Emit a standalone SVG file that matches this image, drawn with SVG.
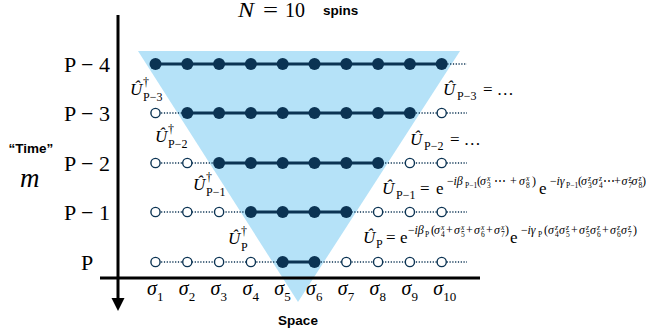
<svg xmlns="http://www.w3.org/2000/svg" width="646" height="335" viewBox="0 0 646 335">
<style>
.serif{font-family:"Liberation Serif","Times New Roman",serif;fill:#000}
.sans{font-family:"Liberation Sans",Arial,sans-serif;font-weight:bold;fill:#000}
.it{font-style:italic}
.big{font-size:17px}
.sub{font-size:12px}
.s1{font-size:12px}
.s2{font-size:7.5px}
.solid{stroke:#0b3353;stroke-width:3;fill:none}
.dot{stroke:#0b3353;stroke-width:1.6;stroke-dasharray:1.2 1.6;fill:none}
.f{fill:#0b3353}
.o{fill:#fff;stroke:#0b3353;stroke-width:1.4}
.axis{stroke:#000;stroke-width:3;fill:none}
</style>
<polygon points="138,51 460,51 298,302" fill="#b5e2f8"/>
<g id="axes">
<line class="axis" x1="118" y1="15" x2="118" y2="300"/>
<polygon points="111.5,298 124.5,298 118,311" fill="#000"/>
<line class="axis" x1="100" y1="278" x2="480" y2="278"/>
</g>
<g id="connectors">
<line class="dot" x1="441.7" y1="64" x2="467" y2="64"/>
<line class="solid" x1="155.5" y1="64" x2="441.7" y2="64"/>
<line class="dot" x1="155.5" y1="113" x2="467" y2="113"/>
<line class="solid" x1="187.3" y1="113" x2="409.9" y2="113"/>
<line class="dot" x1="155.5" y1="163" x2="467" y2="163"/>
<line class="solid" x1="219.1" y1="163" x2="378.1" y2="163"/>
<line class="dot" x1="155.5" y1="212" x2="467" y2="212"/>
<line class="solid" x1="250.9" y1="212" x2="346.3" y2="212"/>
<line class="dot" x1="155.5" y1="262" x2="467" y2="262"/>
<line class="solid" x1="282.7" y1="262" x2="314.5" y2="262"/>
</g>
<g id="row-P-4">
<circle class="f" cx="155.5" cy="64" r="6"/><circle class="f" cx="187.3" cy="64" r="6"/><circle class="f" cx="219.1" cy="64" r="6"/><circle class="f" cx="250.9" cy="64" r="6"/><circle class="f" cx="282.7" cy="64" r="6"/><circle class="f" cx="314.5" cy="64" r="6"/><circle class="f" cx="346.3" cy="64" r="6"/><circle class="f" cx="378.1" cy="64" r="6"/><circle class="f" cx="409.9" cy="64" r="6"/><circle class="f" cx="441.7" cy="64" r="6"/>
</g>
<g id="row-P-3">
<circle class="o" cx="155.5" cy="113" r="4.6"/><circle class="f" cx="187.3" cy="113" r="6"/><circle class="f" cx="219.1" cy="113" r="6"/><circle class="f" cx="250.9" cy="113" r="6"/><circle class="f" cx="282.7" cy="113" r="6"/><circle class="f" cx="314.5" cy="113" r="6"/><circle class="f" cx="346.3" cy="113" r="6"/><circle class="f" cx="378.1" cy="113" r="6"/><circle class="f" cx="409.9" cy="113" r="6"/><circle class="o" cx="441.7" cy="113" r="4.6"/>
</g>
<g id="row-P-2">
<circle class="o" cx="155.5" cy="163" r="4.6"/><circle class="o" cx="187.3" cy="163" r="4.6"/><circle class="f" cx="219.1" cy="163" r="6"/><circle class="f" cx="250.9" cy="163" r="6"/><circle class="f" cx="282.7" cy="163" r="6"/><circle class="f" cx="314.5" cy="163" r="6"/><circle class="f" cx="346.3" cy="163" r="6"/><circle class="f" cx="378.1" cy="163" r="6"/><circle class="o" cx="409.9" cy="163" r="4.6"/><circle class="o" cx="441.7" cy="163" r="4.6"/>
</g>
<g id="row-P-1">
<circle class="o" cx="155.5" cy="212" r="4.6"/><circle class="o" cx="187.3" cy="212" r="4.6"/><circle class="o" cx="219.1" cy="212" r="4.6"/><circle class="f" cx="250.9" cy="212" r="6"/><circle class="f" cx="282.7" cy="212" r="6"/><circle class="f" cx="314.5" cy="212" r="6"/><circle class="f" cx="346.3" cy="212" r="6"/><circle class="o" cx="378.1" cy="212" r="4.6"/><circle class="o" cx="409.9" cy="212" r="4.6"/><circle class="o" cx="441.7" cy="212" r="4.6"/>
</g>
<g id="row-P">
<circle class="o" cx="155.5" cy="262" r="4.6"/><circle class="o" cx="187.3" cy="262" r="4.6"/><circle class="o" cx="219.1" cy="262" r="4.6"/><circle class="o" cx="250.9" cy="262" r="4.6"/><circle class="f" cx="282.7" cy="262" r="6"/><circle class="f" cx="314.5" cy="262" r="6"/><circle class="o" cx="346.3" cy="262" r="4.6"/><circle class="o" cx="378.1" cy="262" r="4.6"/><circle class="o" cx="409.9" cy="262" r="4.6"/><circle class="o" cx="441.7" cy="262" r="4.6"/>
</g>
<g id="title">
<text class="serif it" x="238" y="17" font-size="20" textLength="16" lengthAdjust="spacingAndGlyphs">N</text>
<text class="serif" x="263" y="17" font-size="20" textLength="15" lengthAdjust="spacingAndGlyphs">=</text>
<text class="serif" x="285" y="17" font-size="20">10</text>
<text class="sans" x="323" y="15" font-size="13.5">spins</text>
</g>
<g id="time-labels" class="serif" font-size="22" text-anchor="middle">
<text x="87" y="72">P − 4</text>
<text x="87" y="121">P − 3</text>
<text x="87" y="171">P − 2</text>
<text x="87" y="220">P − 1</text>
<text x="87" y="270">P</text>
</g>
<text class="sans" x="31" y="153" font-size="13.5" text-anchor="middle">“Time”</text>
<text class="serif it" x="20" y="187" font-size="27">m</text>
<text class="sans" x="298" y="325" font-size="13.5" text-anchor="middle">Space</text>
<g id="space-labels" class="serif">
<text class="it" font-size="20" y="295"><tspan x="147">σ</tspan><tspan x="178.8">σ</tspan><tspan x="210.6">σ</tspan><tspan x="242.4">σ</tspan><tspan x="274.2">σ</tspan><tspan x="306">σ</tspan><tspan x="337.8">σ</tspan><tspan x="369.6">σ</tspan><tspan x="401.4">σ</tspan><tspan x="433.2">σ</tspan></text>
<text font-size="13" y="301"><tspan x="157">1</tspan><tspan x="188.8">2</tspan><tspan x="220.6">3</tspan><tspan x="252.4">4</tspan><tspan x="284.2">5</tspan><tspan x="316">6</tspan><tspan x="347.8">7</tspan><tspan x="379.6">8</tspan><tspan x="411.4">9</tspan><tspan x="443.2">10</tspan></text>
</g>
<g id="dagger-labels" class="serif">
<text class="big it" x="130" y="95">Û</text><text class="s1" x="143" y="86">†</text><text class="sub" x="143" y="101">P−3</text>
<text class="big it" x="155" y="142">Û</text><text class="s1" x="168" y="133">†</text><text class="sub" x="168" y="148">P−2</text>
<text class="big it" x="193" y="190">Û</text><text class="s1" x="206" y="181">†</text><text class="sub" x="206" y="196">P−1</text>
<text class="big it" x="228" y="244">Û</text><text class="s1" x="241" y="235">†</text><text class="sub" x="241" y="251">P</text>
</g>
<g id="U-labels" class="serif">
<text class="big it" x="443" y="95">Û</text><text class="sub" x="457" y="100">P−3</text><text class="big" x="483" y="95">= …</text>
<text class="big it" x="410" y="145">Û</text><text class="sub" x="424" y="150">P−2</text><text class="big" x="450" y="145">= …</text>
<text class="big it" x="382" y="194">Û</text><text class="sub" x="396" y="199">P−1</text><text class="big" x="420" y="194">=</text><text class="big" x="436" y="194">e</text><text class="big" x="539" y="194">e</text>
<text class="s1"><tspan x="447" y="185">−</tspan><tspan class="it" x="453.5" y="185">iβ</tspan><tspan class="s2" x="465" y="188">P−1</tspan><tspan x="477" y="185">(</tspan><tspan class="it" x="480" y="185">σ</tspan><tspan class="s2 it" x="487" y="180.5">x</tspan><tspan class="s2" x="487" y="188">3</tspan><tspan x="494" y="185">⋯</tspan><tspan x="510" y="185">+</tspan><tspan class="it" x="519" y="185">σ</tspan><tspan class="s2 it" x="526" y="180.5">x</tspan><tspan class="s2" x="526" y="188">8</tspan><tspan x="532" y="185">)</tspan>
<tspan x="550" y="185">−</tspan><tspan class="it" x="556.5" y="185">iγ</tspan><tspan class="s2" x="566" y="188">P−1</tspan><tspan x="578" y="185">(</tspan><tspan class="it" x="581" y="185">σ</tspan><tspan class="s2 it" x="588" y="180.5">z</tspan><tspan class="s2" x="588" y="188">3</tspan><tspan class="it" x="592" y="185">σ</tspan><tspan class="s2 it" x="599" y="180.5">z</tspan><tspan class="s2" x="599" y="188">4</tspan><tspan x="603" y="185">⋯</tspan><tspan x="614" y="185">+</tspan><tspan class="it" x="621.5" y="185">σ</tspan><tspan class="s2 it" x="628.5" y="180.5">z</tspan><tspan class="s2" x="628.5" y="188">7</tspan><tspan class="it" x="631.5" y="185">σ</tspan><tspan class="s2 it" x="638.5" y="180.5">z</tspan><tspan class="s2" x="638.5" y="188">8</tspan><tspan x="642" y="185">)</tspan></text>
<text class="big it" x="363" y="243">Û</text><text class="sub" x="376" y="248">P</text><text class="big" x="386" y="243">=</text><text class="big" x="400" y="243">e</text><text class="big" x="510" y="243">e</text>
<text class="s1"><tspan x="408" y="234">−</tspan><tspan class="it" x="414.5" y="234">iβ</tspan><tspan class="s2" x="425" y="237">P</tspan><tspan x="431" y="234">(</tspan><tspan class="it" x="434" y="234">σ</tspan><tspan class="s2 it" x="441" y="229.5">x</tspan><tspan class="s2" x="441" y="237">4</tspan><tspan x="446" y="234">+</tspan><tspan class="it" x="454" y="234">σ</tspan><tspan class="s2 it" x="461" y="229.5">x</tspan><tspan class="s2" x="461" y="237">5</tspan><tspan x="466" y="234">+</tspan><tspan class="it" x="474" y="234">σ</tspan><tspan class="s2 it" x="481" y="229.5">x</tspan><tspan class="s2" x="481" y="237">6</tspan><tspan x="486" y="234">+</tspan><tspan class="it" x="494" y="234">σ</tspan><tspan class="s2 it" x="501" y="229.5">x</tspan><tspan class="s2" x="501" y="237">7</tspan><tspan x="505" y="234">)</tspan>
<tspan x="521" y="234">−</tspan><tspan class="it" x="527.5" y="234">iγ</tspan><tspan class="s2" x="538" y="237">P</tspan><tspan x="544" y="234">(</tspan><tspan class="it" x="548" y="234">σ</tspan><tspan class="s2 it" x="555" y="229.5">z</tspan><tspan class="s2" x="555" y="237">4</tspan><tspan class="it" x="559" y="234">σ</tspan><tspan class="s2 it" x="566" y="229.5">z</tspan><tspan class="s2" x="566" y="237">5</tspan><tspan x="571" y="234">+</tspan><tspan class="it" x="579" y="234">σ</tspan><tspan class="s2 it" x="586" y="229.5">z</tspan><tspan class="s2" x="586" y="237">5</tspan><tspan class="it" x="590" y="234">σ</tspan><tspan class="s2 it" x="597" y="229.5">z</tspan><tspan class="s2" x="597" y="237">6</tspan><tspan x="602" y="234">+</tspan><tspan class="it" x="610" y="234">σ</tspan><tspan class="s2 it" x="617" y="229.5">z</tspan><tspan class="s2" x="617" y="237">6</tspan><tspan class="it" x="621" y="234">σ</tspan><tspan class="s2 it" x="628" y="229.5">z</tspan><tspan class="s2" x="628" y="237">7</tspan><tspan x="633" y="234">)</tspan></text>
</g>
</svg>
